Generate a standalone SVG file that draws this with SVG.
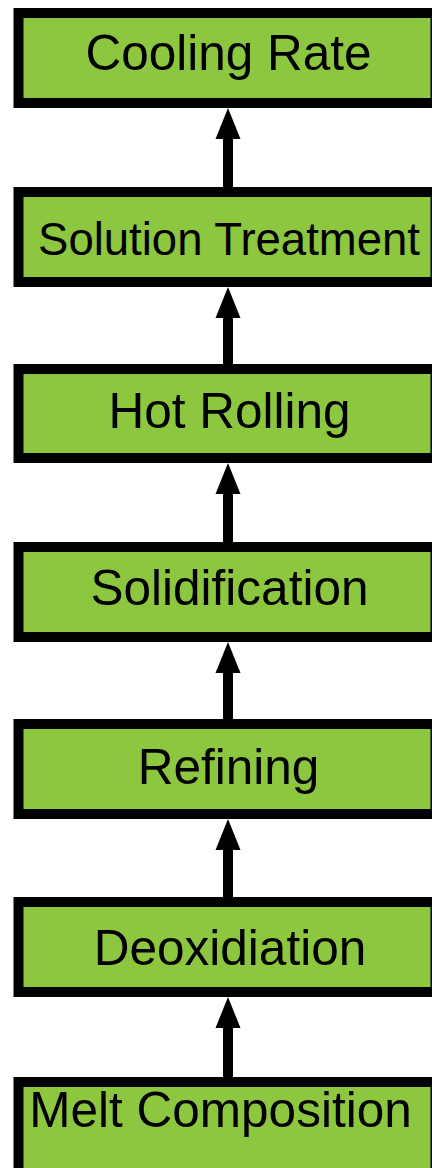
<svg xmlns="http://www.w3.org/2000/svg" width="432" height="1168" viewBox="0 0 432 1168">
  <style>
    .box { fill: #8DC63F; stroke: #000; stroke-width: 10; }
    .lbl { font-family: "Liberation Sans", Arial, sans-serif; font-size: 49.5px; fill: #000; text-anchor: middle; }
    .shaft { stroke: #000; stroke-width: 10; fill: none; }
    .head { fill: #000; }
  </style>
  <rect width="432" height="1168" fill="#fff"/>

  <!-- process steps, top to bottom -->
  <g id="cooling-rate">
    <rect class="box" x="18.5" y="13" width="417" height="90"/>
    <text class="lbl" x="228.5" y="70">Cooling Rate</text>
  </g>
  <g id="solution-treatment">
    <rect class="box" x="18.5" y="192" width="417" height="90"/>
    <text class="lbl" x="229" y="255" style="font-size:45.5px">Solution Treatment</text>
  </g>
  <g id="hot-rolling">
    <rect class="box" x="18.5" y="369" width="417" height="89"/>
    <text class="lbl" x="229.5" y="428">Hot Rolling</text>
  </g>
  <g id="solidification">
    <rect class="box" x="18.5" y="547" width="417" height="90"/>
    <text class="lbl" x="229.5" y="605">Solidification</text>
  </g>
  <g id="refining">
    <rect class="box" x="18.5" y="724" width="417" height="90"/>
    <text class="lbl" x="228.5" y="784">Refining</text>
  </g>
  <g id="deoxidiation">
    <rect class="box" x="18.5" y="902" width="417" height="90"/>
    <text class="lbl" x="230" y="965">Deoxidiation</text>
  </g>
  <g id="melt-composition">
    <rect class="box" x="18.5" y="1082" width="417" height="100"/>
    <text class="lbl" x="220.5" y="1127">Melt Composition</text>
  </g>

  <!-- upward connectors -->
  <g id="connectors">
    <line class="shaft" x1="228" y1="187" x2="228" y2="137"/>
    <polygon class="head" points="228,108 240.5,139 215.5,139"/>
    <line class="shaft" x1="228" y1="364" x2="228" y2="316"/>
    <polygon class="head" points="228,287 240.5,318 215.5,318"/>
    <line class="shaft" x1="228" y1="542" x2="228" y2="492"/>
    <polygon class="head" points="228,463 240.5,494 215.5,494"/>
    <line class="shaft" x1="228" y1="719" x2="228" y2="671"/>
    <polygon class="head" points="228,642 240.5,673 215.5,673"/>
    <line class="shaft" x1="228" y1="897" x2="228" y2="848"/>
    <polygon class="head" points="228,819 240.5,850 215.5,850"/>
    <line class="shaft" x1="228" y1="1077" x2="228" y2="1026"/>
    <polygon class="head" points="228,997 240.5,1028 215.5,1028"/>
  </g>
</svg>
